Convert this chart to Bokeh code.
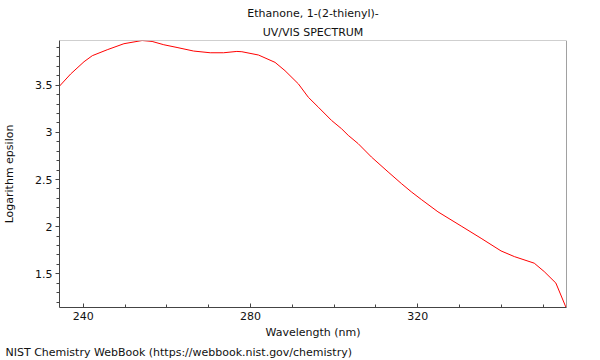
from bokeh.plotting import figure
from bokeh.models import (Range1d, FixedTicker, CustomJSTickFormatter, Title, Span)
from bokeh.embed import file_html
from bokeh.resources import INLINE

# ---- data ----
wavelength = [234.28, 236.97, 240.17, 242.15, 245.72, 249.71, 254.07, 256.46, 259.25,
              262.42, 266.40, 270.36, 273.56, 276.73, 277.93, 281.91, 285.87, 288.25,
              291.45, 293.83, 296.22, 299.39, 301.78, 303.38, 305.76, 308.93, 312.92,
              316.09, 318.47, 320.86, 324.84, 330.40, 335.17, 339.94, 343.12, 347.89,
              350.27, 353.06, 355.44]
log_eps = [3.490, 3.620, 3.750, 3.814, 3.877, 3.941, 3.975, 3.965, 3.930,
           3.901, 3.863, 3.845, 3.845, 3.859, 3.856, 3.821, 3.743, 3.655,
           3.515, 3.373, 3.268, 3.127, 3.039, 2.969, 2.881, 2.739, 2.581,
           2.458, 2.370, 2.289, 2.158, 2.007, 1.877, 1.743, 1.683, 1.613,
           1.524, 1.402, 1.148]

x_major = [240, 280, 320]
x_minor = [250, 260, 270, 290, 300, 310, 330, 340, 350]
y_major = [1.5, 2.0, 2.5, 3.0, 3.5]
y_minor = [1.2, 1.3, 1.4, 1.6, 1.7, 1.8, 1.9, 2.1, 2.2, 2.3, 2.4, 2.6, 2.7, 2.8, 2.9,
           3.1, 3.2, 3.3, 3.4, 3.6, 3.7, 3.8, 3.9]

X_MIN, X_MAX = 234.3, 355.6
Y_MIN, Y_MAX = 1.143, 3.975

title_1 = "Ethanone, 1-(2-thienyl)-"
title_2 = "UV/VIS SPECTRUM"
x_title = "Wavelength (nm)"
y_title = "Logarithm epsilon"
footer = "NIST Chemistry WebBook (https://webbook.nist.gov/chemistry)"

FONT = "DejaVu Sans"
FS = "11px"
TXT = "#111111"

W, H = 600, 360
BL, BR, BT, BB = 57, 34, 40, 52

p = figure(width=W, height=H, output_backend="svg", toolbar_location=None,
           x_range=Range1d(X_MIN, X_MAX), y_range=Range1d(Y_MIN, Y_MAX),
           min_border_left=BL, min_border_right=BR, min_border_top=BT,
           min_border_bottom=BB)
p.background_fill_color = "white"
p.border_fill_color = "white"
p.outline_line_color = None
p.grid.visible = False

p.line(wavelength, log_eps, line_color="#ff0000", line_width=1)

# axes
xa = p.xaxis[0]
xa.ticker = FixedTicker(ticks=x_major, minor_ticks=x_minor)
xa.major_tick_in = 4
xa.major_tick_out = 0
xa.minor_tick_in = 3
xa.minor_tick_out = 0
xa.major_label_standoff = 4
xa.axis_label = x_title
xa.axis_label_standoff = 3
ya = p.yaxis[0]
ya.ticker = FixedTicker(ticks=y_major, minor_ticks=y_minor)
ya.formatter = CustomJSTickFormatter(code="return tick.toString();")
ya.major_tick_in = 0
ya.major_tick_out = 4
ya.minor_tick_in = 0
ya.minor_tick_out = 3
ya.major_label_standoff = 3
ya.axis_label = y_title
ya.axis_label_standoff = 16
for ax in (xa, ya):
    ax.axis_line_color = "#444444"
    ax.major_tick_line_color = "#444444"
    ax.minor_tick_line_color = "#444444"
    ax.major_label_text_font = FONT
    ax.major_label_text_font_size = FS
    ax.major_label_text_color = TXT
    ax.axis_label_text_font = FONT
    ax.axis_label_text_font_size = FS
    ax.axis_label_text_font_style = "normal"
    ax.axis_label_text_color = TXT

# frame top/right borders
p.add_layout(Span(location=Y_MAX, dimension="width", line_color="#a0a0a0", line_width=1))
p.add_layout(Span(location=X_MAX, dimension="height", line_color="#444444", line_width=1))

# titles (first added is nearest to the frame)
p.add_layout(Title(text=title_2, align="center", text_font=FONT, text_font_size=FS,
                   text_font_style="normal", text_color=TXT, standoff=4), "above")
p.add_layout(Title(text=title_1, align="center", text_font=FONT, text_font_size=FS,
                   text_font_style="normal", text_color=TXT, standoff=4), "above")
p.add_layout(Title(text=footer, align="left", offset=-54, text_font=FONT, text_font_size=FS,
                   text_font_style="normal", text_color=TXT, standoff=4), "below")

open("out.html", "w").write(file_html(p, INLINE))
